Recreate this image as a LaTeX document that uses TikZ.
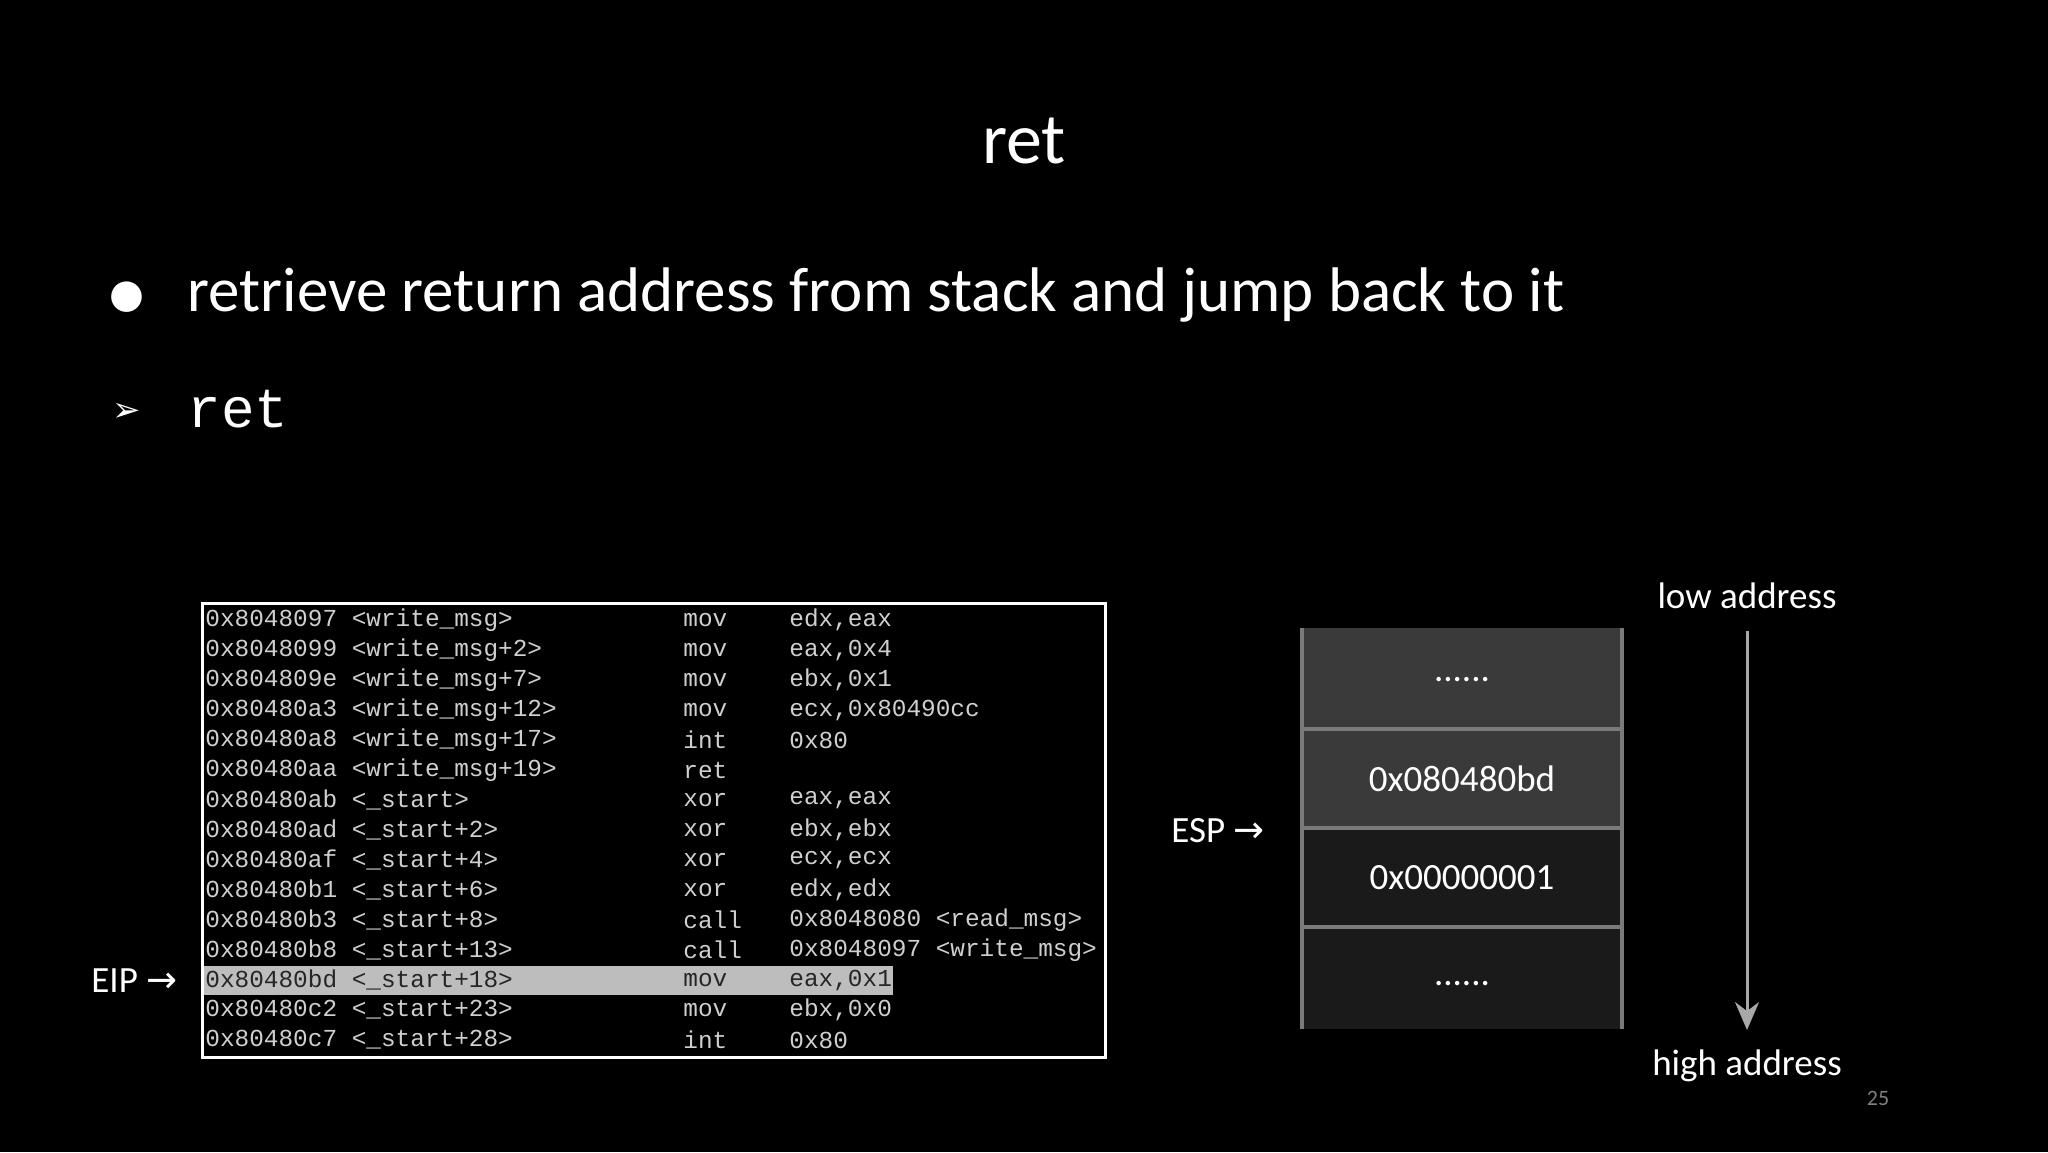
\documentclass[tikz,border=0pt]{standalone}
\usetikzlibrary{arrows.meta}
\usepackage{fontspec}
\setmainfont{Carlito}
\newfontfamily\codefont{Liberation Mono}
\newfontfamily\symfont{DejaVu Sans}
\begin{document}
\begin{tikzpicture}[x=0.5pt,y=-0.5pt,
  txt/.style={text=white,inner sep=0pt},
  code/.style={text=codegray,inner sep=0pt,anchor=west,font=\codefont\fontsize{12.2}{14}\selectfont},
  cell/.style={draw=cellborder,line width=2pt},
  lbl/.style={txt,font=\fontsize{18.5}{22}\selectfont}]
\definecolor{codegray}{HTML}{CFCFCF}
\definecolor{cellborder}{HTML}{7A7A7A}
\definecolor{arrowgray}{HTML}{A8A8A8}
\definecolor{celltop}{HTML}{3A3A3A}
\definecolor{cellbot}{HTML}{1A1A1A}
\definecolor{hl}{HTML}{BDBDBD}
\fill[black] (0,0) rectangle (2048,1152);
\useasboundingbox (0,0) rectangle (2048,1152);
% title
\node[txt,font=\fontsize{36}{40}\selectfont] (title) at (1024,141) {ret};
\node[txt,font=\symfont\fontsize{20}{24}\selectfont] (b1) at (127,297) {●};
\node[txt,anchor=west,font=\fontsize{31.5}{36}\selectfont] (t1) at (187,295) {retrieve return address from stack and jump back to it};
\node[txt,font=\symfont\fontsize{17}{20}\selectfont] (b2) at (127,412) {➢};
\node[txt,anchor=west,font=\codefont\fontsize{28}{32}\selectfont] (t2) at (187,409) {ret};
% code box
\fill[hl] (203,966) rectangle (893,995);
\draw[white,line width=1.5pt] (202,603) rectangle (1105,1057);
\foreach \i/\a/\m/\o in {0/{0x8048097 <write\_msg>}/mov/{edx,eax},
 1/{0x8048099 <write\_msg+2>}/mov/{eax,0x4},
 2/{0x804809e <write\_msg+7>}/mov/{ebx,0x1},
 3/{0x80480a3 <write\_msg+12>}/mov/{ecx,0x80490cc},
 4/{0x80480a8 <write\_msg+17>}/int/{0x80},
 5/{0x80480aa <write\_msg+19>}/ret/{},
 6/{0x80480ab <\_start>}/xor/{eax,eax},
 7/{0x80480ad <\_start+2>}/xor/{ebx,ebx},
 8/{0x80480af <\_start+4>}/xor/{ecx,ecx},
 9/{0x80480b1 <\_start+6>}/xor/{edx,edx},
 10/{0x80480b3 <\_start+8>}/call/{0x8048080 <read\_msg>},
 11/{0x80480b8 <\_start+13>}/call/{0x8048097 <write\_msg>},
 13/{0x80480c2 <\_start+23>}/mov/{ebx,0x0},
 14/{0x80480c7 <\_start+28>}/int/{0x80}}{
  \node[code] (a\i) at (205,620+30*\i) {\a};
  \node[code] (m\i) at (683,620+30*\i) {\m};
  \node[code] (o\i) at (789,620+30*\i) {\o};
}
\node[code,text=black!85] (a12) at (205,980) {0x80480bd <\_start+18>};
\node[code,text=black!85] (m12) at (683,980) {mov};
\node[code,text=black!85] (o12) at (789,980) {eax,0x1};
\node[lbl,anchor=west] (eip) at (91,981) {EIP {\symfont→}};
% stack
\fill[celltop] (1302,628) rectangle (1622,828);
\fill[cellbot] (1302,828) rectangle (1622,1029);
\draw[cell] (1302,628) -- (1302,1029) (1622,628) -- (1622,1029)
  (1302,729) -- (1622,729) (1302,828) -- (1622,828) (1302,927) -- (1622,927);
\node[lbl] (s1) at (1462,680) {......};
\node[lbl] (s2) at (1462,779) {0x080480bd};
\node[lbl] (s3) at (1462,878) {0x00000001};
\node[lbl] (s4) at (1462,984) {......};
\node[lbl,anchor=west] (esp) at (1171,831) {ESP {\symfont→}};
\node[lbl] (low) at (1747,596) {low address};
\node[lbl] (high) at (1747,1066) {high address};
\coordinate (ta) at (1747,631);
\coordinate (tb) at (1747,1030);
\draw[arrowgray,line width=1.5pt,-{Stealth[length=14pt,width=12pt]}] (ta) -- (tb);
\node[txt,text=gray,font=\fontsize{11}{13}\selectfont] (pg) at (1878,1098) {25};
\end{tikzpicture}
\end{document}
